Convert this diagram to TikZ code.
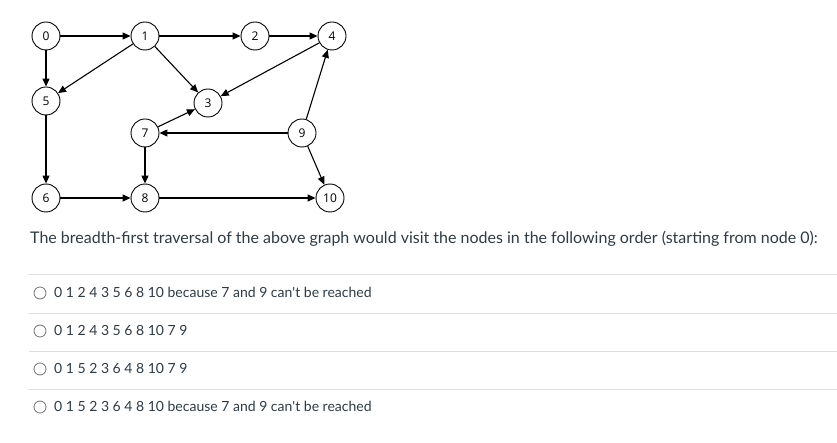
\documentclass[tikz,border=0pt]{standalone}
\usepackage{fontspec}
\setmainfont{Lato}
\newfontfamily\nodefont{Open Sans}
\usetikzlibrary{arrows.meta}
\definecolor{ink}{HTML}{2D3B45}

\begin{document}
\begin{tikzpicture}[x=1pt,y=-1pt]
    \tikzstyle{vertex}=[draw,circle,line width=0.9pt,minimum size=28pt,
        inner sep=0pt,font=\nodefont\fontsize{12}{12}\selectfont]
    \tikzstyle{edge}=[line width=1.1pt,-{Triangle[length=8pt,width=7pt]}]
    \tikzstyle{rule}=[draw=black!13,line width=0.8pt]
    \tikzstyle{radio}=[draw=black!55,circle,minimum size=12pt,inner sep=0pt,
        line width=0.8pt]
    \tikzstyle{answer}=[anchor=west,inner sep=0pt,text=ink,
        font=\fontsize{14}{16}\selectfont]
    \useasboundingbox (0,0) rectangle (837,443);
    % Nodes
    \node[vertex] (n0) at (46,36) {0};
    \node[vertex] (n1) at (145,36) {1};
    \node[vertex] (n2) at (255,36) {2};
    \node[vertex] (n4) at (332,36) {4};
    \node[vertex] (n5) at (46,101) {5};
    \node[vertex] (n3) at (208,103) {3};
    \node[vertex] (n7) at (145,133) {7};
    \node[vertex] (n9) at (302,133) {9};
    \node[vertex] (n6) at (46,198) {6};
    \node[vertex] (n8) at (145,198) {8};
    \node[vertex] (n10) at (330,198) {10};
    % Edges
    \draw[edge] (n0) -- (n1);
    \draw[edge] (n1) -- (n2);
    \draw[edge] (n2) -- (n4);
    \draw[edge] (n0) -- (n5);
    \draw[edge] (n1) -- (n5);
    \draw[edge] (n1) -- (n3);
    \draw[edge] (n4) -- (n3);
    \draw[edge] (n7) -- (n3);
    \draw[edge] (n9) -- (n7);
    \draw[edge] (n9) -- (n4);
    \draw[edge] (n9) -- (n10);
    \draw[edge] (n7) -- (n8);
    \draw[edge] (n5) -- (n6);
    \draw[edge] (n6) -- (n8);
    \draw[edge] (n8) -- (n10);
    % Question
    \node[anchor=west,inner sep=0pt,text=ink,font=\fontsize{16}{18}\selectfont]
        (question) at (30,239) {The breadth-first traversal of the above graph would
        visit the nodes in the following order (starting from node 0):};
    % Answers
    \foreach \y in {274,313,351,389}
        \draw[rule] (29,\y) -- (837,\y);
    \node[radio] (r1) at (40,293) {};
    \node[radio] (r2) at (40,331) {};
    \node[radio] (r3) at (40,369) {};
    \node[radio] (r4) at (40,407) {};
    \node[answer] (a1) at (54,292) {0 1 2 4 3 5 6 8 10 because 7 and 9 can\textquotesingle t be reached};
    \node[answer] (a2) at (54,330) {0 1 2 4 3 5 6 8 10 7 9};
    \node[answer] (a3) at (54,368) {0 1 5 2 3 6 4 8 10 7 9};
    \node[answer] (a4) at (54,406) {0 1 5 2 3 6 4 8 10 because 7 and 9 can\textquotesingle t be reached};
\end{tikzpicture}
\end{document}
